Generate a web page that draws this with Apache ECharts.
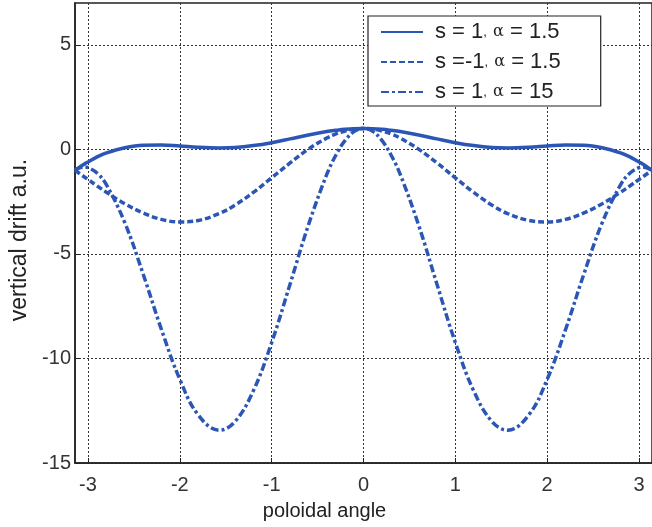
<!DOCTYPE html>
<html>
<head>
<meta charset="utf-8">
<script src="https://cdn.jsdelivr.net/npm/echarts@6/dist/echarts.min.js"></script>
<style>html,body{margin:0;padding:0;background:#fff;}#c{width:652px;height:527px;}</style>
</head>
<body>
<div id="c"></div>
<script>
const seriesNames = ['s = 1, α = 1.5', 's =-1, α = 1.5', 's = 1, α = 15'];
const angle = [-3.1416, -3.04, -3.0, -2.9, -2.8, -2.6, -2.4, -2.2, -2.0, -1.8, -1.57, -1.4, -1.2, -1.0, -0.8, -0.6, -0.4, -0.3, -0.2, -0.1,
  0, 0.1, 0.2, 0.3, 0.4, 0.6, 0.8, 1.0, 1.2, 1.4, 1.57, 1.8, 2.0, 2.2, 2.4, 2.6, 2.8, 2.9, 3.0, 3.04, 3.1416];
const driftA = [-1.00, -0.70, -0.60, -0.36, -0.17, 0.08, 0.20, 0.21, 0.16, 0.10, 0.07, 0.09, 0.18, 0.32, 0.50, 0.69, 0.85, 0.91, 0.96, 0.99,
  1.00, 0.99, 0.96, 0.91, 0.85, 0.69, 0.50, 0.32, 0.18, 0.09, 0.07, 0.10, 0.16, 0.21, 0.20, 0.08, -0.17, -0.36, -0.60, -0.70, -1.00];
const driftB = [-1.00, -1.32, -1.44, -1.75, -2.05, -2.60, -3.04, -3.35, -3.47, -3.40, -3.07, -2.67, -2.06, -1.36, -0.65, 0.01, 0.54, 0.74, 0.88, 0.97,
  1.00, 0.97, 0.88, 0.74, 0.54, 0.01, -0.65, -1.36, -2.06, -2.67, -3.07, -3.40, -3.47, -3.35, -3.04, -2.60, -2.05, -1.75, -1.44, -1.32, -1.00];
const driftC = [-1.00, -0.84, -0.87, -1.14, -1.69, -3.50, -5.96, -8.62, -11.00, -12.70, -13.43, -13.02, -11.55, -9.24, -6.45, -3.62, -1.20, -0.27, 0.43, 0.86,
  1.00, 0.86, 0.43, -0.27, -1.20, -3.62, -6.45, -9.24, -11.55, -13.02, -13.43, -12.70, -11.00, -8.62, -5.96, -3.50, -1.69, -1.14, -0.87, -0.84, -1.00];
const xTicks = [-3, -2, -1, 0, 1, 2, 3];
const yTicks = [-15, -10, -5, 0, 5];

const blue = '#2b56b5';
const font = 'Liberation Sans';
const pair = ys => angle.map((x, i) => [x, ys[i]]);
const dashes = ['solid', [6, 3], [8, 3, 3, 3]];
const allY = [driftA, driftB, driftC];

const chart = echarts.init(document.getElementById('c'));
chart.setOption({
  animation: false,
  backgroundColor: '#fff',
  grid: { left: 72, top: 3, width: 585, height: 460, show: true, borderColor: '#222', borderWidth: 1.5, backgroundColor: 'transparent' },
  legend: {
    orient: 'vertical', left: 368, top: 16,
    backgroundColor: '#fff', borderColor: '#222', borderWidth: 1.2, borderRadius: 0,
    padding: [5, 40, 3, 12], itemWidth: 42, itemHeight: 14, itemGap: 8,
    itemStyle: { opacity: 0 },
    textStyle: { fontFamily: font, fontSize: 22, color: '#222', padding: [0, 0, 0, 7],
      rich: { c: { fontSize: 13, fontFamily: font, color: '#222' }, g: { fontSize: 16, fontFamily: 'DejaVu Serif', color: '#222' } } },
    formatter: name => name.replace(', α', '{c|,} {g|α}'),
    data: seriesNames
  },
  xAxis: {
    type: 'value', min: -Math.PI, max: Math.PI,
    name: 'poloidal angle', nameLocation: 'middle', nameGap: 38,
    nameTextStyle: { fontFamily: font, fontSize: 20, color: '#222', padding: [0, 78, 0, 0] },
    axisLine: { show: true, onZero: false, lineStyle: { color: '#222', width: 1.5 } },
    axisTick: { show: true, inside: true, length: 5, customValues: xTicks, lineStyle: { color: '#222' } },
    axisLabel: { customValues: xTicks, fontFamily: font, fontSize: 20, color: '#333', margin: 12 },
    splitLine: { show: true, lineStyle: { color: '#333', type: [2, 2], width: 1 } }
  },
  yAxis: {
    type: 'value', min: -15, max: 7,
    name: 'vertical drift a.u.', nameLocation: 'middle', nameGap: 44,
    nameTextStyle: { fontFamily: font, fontSize: 23, color: '#222', padding: [0, 14, 0, 0] },
    axisLine: { show: true, onZero: false, lineStyle: { color: '#222', width: 1.5 } },
    axisTick: { show: true, inside: true, length: 5, customValues: yTicks, lineStyle: { color: '#222' } },
    axisLabel: { customValues: yTicks, fontFamily: font, fontSize: 20, color: '#333', margin: 4 },
    splitLine: { show: true, lineStyle: { color: '#333', type: [2, 2], width: 1 } }
  },
  series: seriesNames.map((n, k) => ({
    name: n, type: 'line', data: pair(allY[k]), smooth: 0.4, symbol: 'none',
    lineStyle: { color: blue, width: 3.5, type: dashes[k] }, itemStyle: { color: blue }
  }))
});
</script>
</body>
</html>
